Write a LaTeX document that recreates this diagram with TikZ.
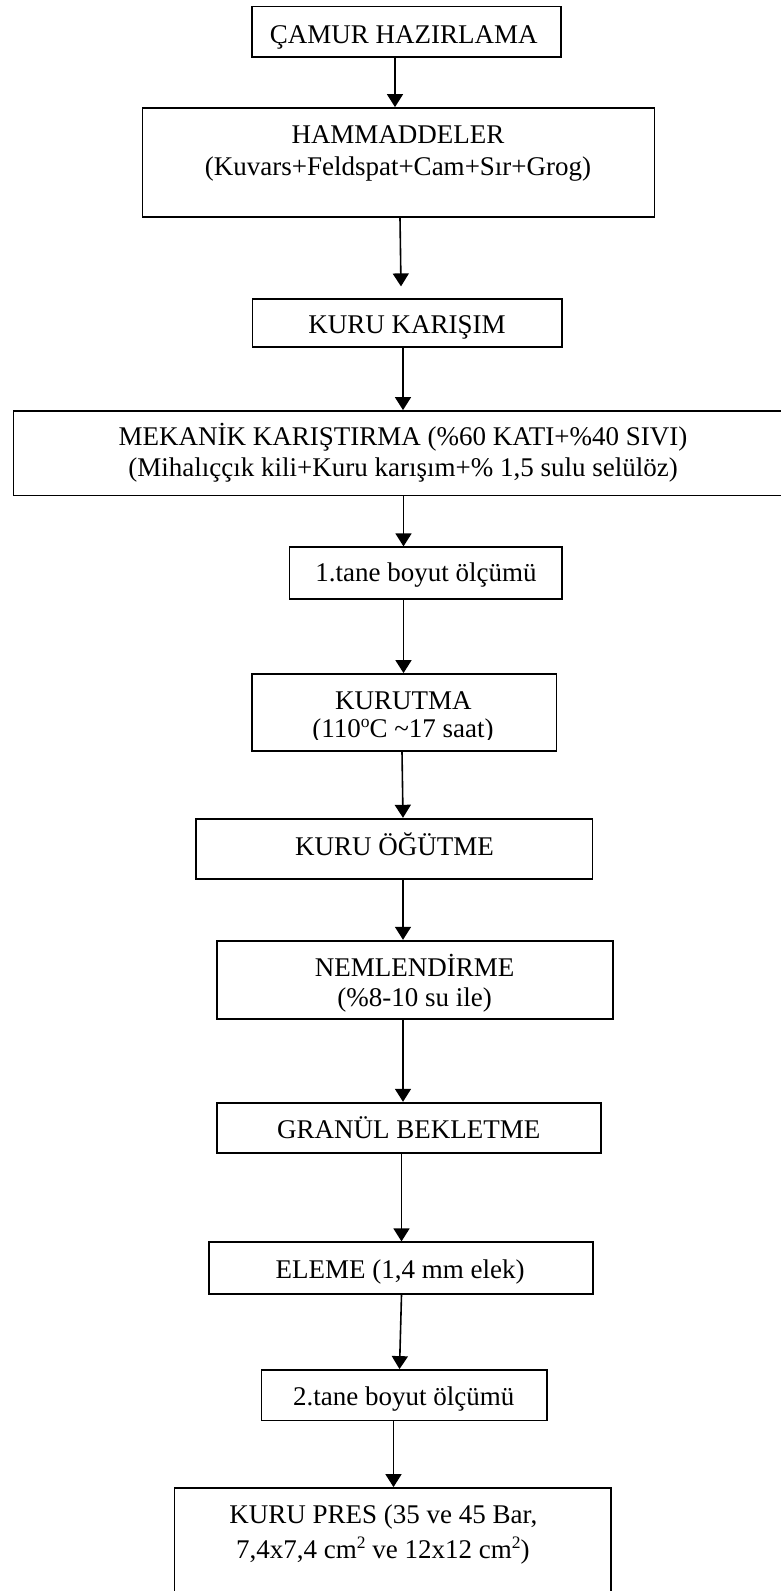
\documentclass[tikz,border=0pt]{standalone}
\usepackage{fontspec}
\setmainfont{Liberation Serif}
\usetikzlibrary{arrows.meta}
\newcommand{\supmark}[1]{\raisebox{0.36em}{\fontsize{17.5pt}{18pt}\selectfont #1}}
\begin{document}
\begin{tikzpicture}[x=1pt,y=-1pt,
  stepbox/.style={draw=black, line width=1.8pt, inner sep=0pt, fill=white},
  txt/.style={anchor=base, inner sep=0pt, font=\fontsize{27pt}{32pt}\selectfont},
  arr/.style={line width=1.6pt, -{Triangle[length=13pt,width=16pt]}}]
\useasboundingbox (0,0) rectangle (781,1591);
\clip (0,0) rectangle (781,1591);

% process boxes
\node[stepbox, minimum width=309pt,   minimum height=50.5pt]  (b1)  at (406.5,31.75) {};
\node[stepbox, minimum width=512pt,   minimum height=109pt]   (b2)  at (398.5,162.5) {};
\node[stepbox, minimum width=309.5pt, minimum height=47.7pt]  (b3)  at (407.25,323.15) {};
\node[stepbox, minimum width=776.5pt, minimum height=84.5pt]  (b4)  at (401.75,453.25) {};
\node[stepbox, minimum width=272.5pt, minimum height=52pt]    (b5)  at (425.75,573.3) {};
\node[stepbox, minimum width=304.5pt, minimum height=76.7pt]  (b6)  at (404.25,712.35) {};
\node[stepbox, minimum width=396.5pt, minimum height=60.3pt]  (b7)  at (394.25,848.85) {};
\node[stepbox, minimum width=396pt,   minimum height=78pt]    (b8)  at (415,979.7) {};
\node[stepbox, minimum width=384pt,   minimum height=50.6pt]  (b9)  at (409,1128) {};
\node[stepbox, minimum width=384pt,   minimum height=51.7pt]  (b10) at (401,1268.15) {};
\node[stepbox, minimum width=285.5pt, minimum height=50.5pt]  (b11) at (404.25,1395.25) {};
\node[stepbox, minimum width=436.5pt, minimum height=112pt]   (b12) at (392.75,1544) {};

% box texts
\node[txt] (t1)  at (403.7,43.3)  {ÇAMUR HAZIRLAMA};
\node[txt] (t2a) at (398,143.3)   {HAMMADDELER};
\node[txt] (t2b) at (398,175)     {(Kuvars+Feldspat+Cam+Sır+Grog)};
\node[txt] (t3)  at (407,333.3)   {KURU KARIŞIM};
\node[txt] (t4a) at (403,445)     {MEKANİK KARIŞTIRMA (\%60 KATI+\%40 SIVI)};
\node[txt] (t4b) at (403,476.7)   {(Mihalıççık kili+Kuru karışım+\% 1,5 sulu selülöz)};
\node[txt] (t5)  at (426,581.7)   {1.tane boyut ölçümü};
\node[txt] (t6a) at (403.3,709.3) {KURUTMA};
\begin{scope}
  % the second line is cut off by the lower part of the box
  \clip (254,676) rectangle (555,739.5);
  \node[txt] (t6b) at (403,737.3) {(110\supmark{o}C \textasciitilde17 saat)};
\end{scope}
\node[txt] (t7)  at (394.5,855)   {KURU ÖĞÜTME};
\node[txt] (t8a) at (414.7,976)   {NEMLENDİRME};
\node[txt] (t8b) at (414.7,1006.7){(\%8-10 su ile)};
\node[txt] (t9)  at (408.7,1138.3){GRANÜL BEKLETME};
\node[txt] (t10) at (400,1278.3)  {ELEME (1,4 mm elek)};
\node[txt] (t11) at (403.7,1405.7){2.tane boyut ölçümü};
\node[txt] (t12a) at (383.3,1523.3){KURU PRES (35 ve 45 Bar,};
\node[txt] (t12b) at (382.8,1558.3){7,4x7,4 cm\supmark{2} ve 12x12 cm\supmark{2})};

% flow arrows
\draw[arr] ([xshift=-11.5pt]b1.south) -- ([xshift=-3.5pt]b2.north);
\draw[arr] ([xshift=1.5pt]b2.south) -- ([xshift=-6.25pt,yshift=12pt]b3.north);
\draw[arr] ([xshift=-4.25pt]b3.south) -- ([xshift=1.25pt]b4.north);
\draw[arr] ([xshift=1.75pt]b4.south) -- ([xshift=-22.25pt]b5.north);
\draw[arr] ([xshift=-22.25pt]b5.south) -- ([xshift=-0.75pt]b6.north);
\draw[arr] ([xshift=-2.25pt]b6.south) -- ([xshift=8.75pt]b7.north);
\draw[arr] ([xshift=8.75pt]b7.south) -- ([xshift=-12pt]b8.north);
\draw[arr] ([xshift=-12pt]b8.south) -- ([xshift=-6pt]b9.north);
\draw[arr] ([xshift=-7.5pt]b9.south) -- ([xshift=0.5pt]b10.north);
\draw[arr] ([xshift=0.5pt]b10.south) -- ([xshift=-4.75pt]b11.north);
\draw[arr] ([xshift=-10.75pt]b11.south) -- ([xshift=0.75pt]b12.north);
\end{tikzpicture}
\end{document}
